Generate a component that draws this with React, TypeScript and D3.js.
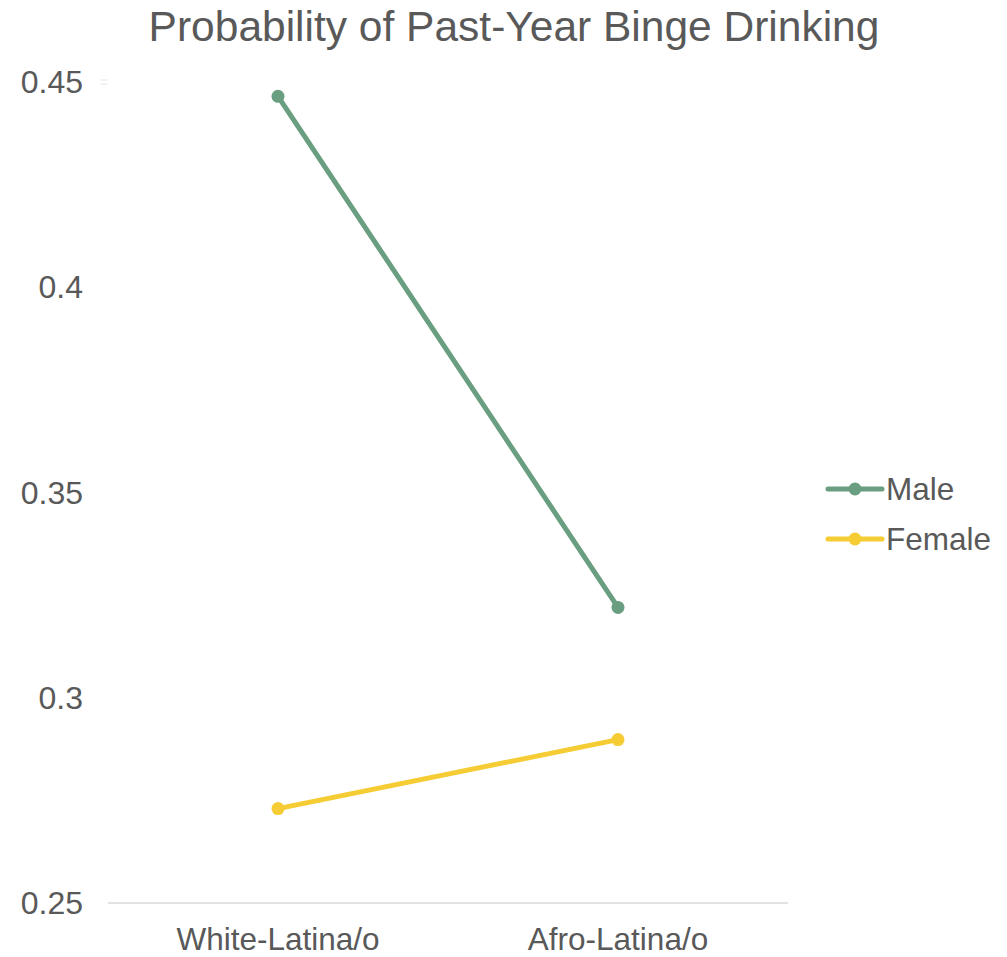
import React from "react";
import * as d3 from "d3";

const categories = ["White-Latina/o", "Afro-Latina/o"];
const seriesNames = ["Male", "Female"];
const maleValues = [0.4465, 0.322];
const femaleValues = [0.273, 0.2898];
const yTicks = [0.25, 0.3, 0.35, 0.4, 0.45];
const yTickLabels = ["0.25", "0.3", "0.35", "0.4", "0.45"];
const title = "Probability of Past-Year Binge Drinking";

const colors = ["#6a9e80", "#f5cc33"];
const textColor = "#595959";
const font = "'Liberation Sans', Arial, sans-serif";

export default function App() {
  const W = 1007, H = 957;
  const x = d3.scaleBand<string>().domain(categories).range([108, 788]);
  const y = d3.scaleLinear().domain([0.25, 0.45]).range([903, 82]);
  const line = d3
    .line<number>()
    .x((_, i) => (x(categories[i]) as number) + x.bandwidth() / 2)
    .y((d) => y(d));
  const series = [maleValues, femaleValues];
  return (
    <svg
      width={W}
      height={H}
      style={{ position: "absolute", left: 0, top: 0, background: "#fff" }}
      fontFamily={font}
    >
      <text x={514} y={41} textAnchor="middle" fontSize={42.5} fill={textColor}>
        {title}
      </text>
      <line x1={108} x2={788} y1={y(0.25)} y2={y(0.25)} stroke="#d9d9d9" strokeWidth={1.5} />
      <line x1={101} x2={107} y1={y(0.45) - 2} y2={y(0.45) - 2} stroke="#e3e3e3" strokeWidth={1} />
      <line x1={101} x2={107} y1={y(0.45) + 2} y2={y(0.45) + 2} stroke="#e3e3e3" strokeWidth={1} />
      {yTicks.map((t, i) => (
        <text key={t} x={83} y={y(t) + 11} textAnchor="end" fontSize={32} fill={textColor}>
          {yTickLabels[i]}
        </text>
      ))}
      {categories.map((c) => (
        <text
          key={c}
          x={(x(c) as number) + x.bandwidth() / 2}
          y={950}
          textAnchor="middle"
          fontSize={31.5}
          fill={textColor}
        >
          {c}
        </text>
      ))}
      {series.map((s, si) => (
        <g key={si}>
          <path d={line(s) || ""} fill="none" stroke={colors[si]} strokeWidth={5} strokeLinecap="round" />
          {s.map((v, i) => (
            <circle
              key={i}
              cx={(x(categories[i]) as number) + x.bandwidth() / 2}
              cy={y(v)}
              r={6.5}
              fill={colors[si]}
            />
          ))}
        </g>
      ))}
      {seriesNames.map((n, i) => {
        const ly = 489 + i * 50;
        return (
          <g key={n}>
            <line x1={828} x2={882} y1={ly} y2={ly} stroke={colors[i]} strokeWidth={5} strokeLinecap="round" />
            <circle cx={855} cy={ly} r={6.5} fill={colors[i]} />
            <text x={886} y={ly + 11} fontSize={31.5} fill={textColor}>
              {n}
            </text>
          </g>
        );
      })}
    </svg>
  );
}
